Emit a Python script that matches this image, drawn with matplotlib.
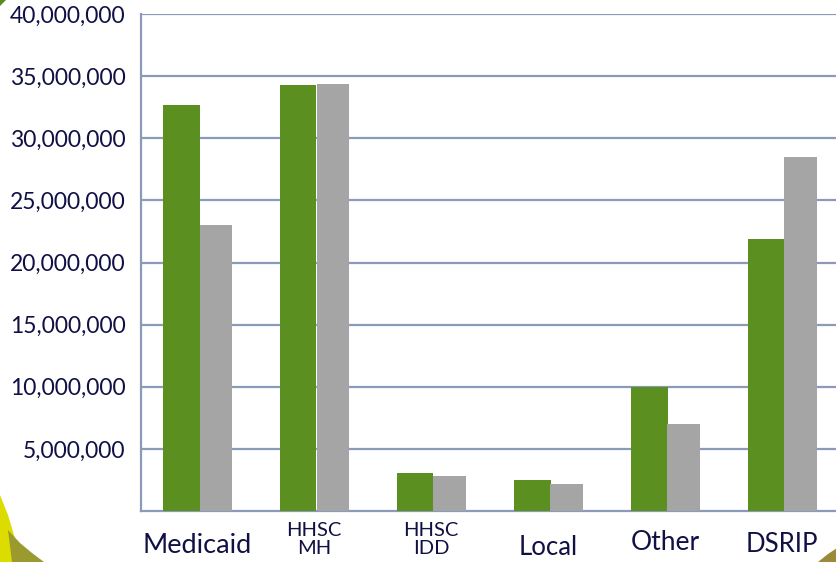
import matplotlib
matplotlib.use("Agg")
import matplotlib.pyplot as plt
import numpy as np
from matplotlib.patches import Polygon

categories = ["Medicaid", "HHSC\nMH", "HHSC\nIDD", "Local", "Other", "DSRIP"]
series_green = [32.7e6, 34.3e6, 3.05e6, 2.5e6, 10.0e6, 21.9e6]
series_gray = [23.0e6, 34.4e6, 2.85e6, 2.2e6, 7.0e6, 28.5e6]
label_sizes = [19.5, 14.5, 14.5, 18.5, 19, 18.5]
label_dy = [-16, -8, -8, -17, -14, -15]
yticks = [5e6, 10e6, 15e6, 20e6, 25e6, 30e6, 35e6, 40e6]

W, H = 837, 562
fig = plt.figure(figsize=(W/100, H/100), dpi=100)
fig.patch.set_facecolor("white")

# decorative corner shapes
yellow = Polygon([(0, 0), (0, (562-495)/H), (8/W, (562-515)/H), (14/W, (562-535)/H), (20/W, 0)],
                 closed=True, transform=fig.transFigure, facecolor="#dcdc00", edgecolor="none", zorder=0)
olive = Polygon([(8/W, (562-530)/H), (20/W, (562-543)/H), (32/W, (562-553)/H), (44/W, 0), (12/W, 0)],
                closed=True, transform=fig.transFigure, facecolor="#9a9a2e", edgecolor="none", zorder=0)
olive2 = Polygon([(837/W, (562-548)/H), (828/W, (562-554)/H), (818/W, 0), (837/W, 0)],
                 closed=True, transform=fig.transFigure, facecolor="#9a8a3a", edgecolor="none", zorder=0)
greenc = Polygon([(0, 1), (6/W, 1), (0, (562-6)/H)], closed=True, transform=fig.transFigure,
                 facecolor="#5a8a1e", edgecolor="none", zorder=0)
for p in (yellow, olive, olive2, greenc):
    fig.patches.append(p)

left = 141/W
right = 843/W
bottom = (562-511)/H
top = (562-14)/H
ax = fig.add_axes([left, bottom, right-left, top-bottom])
ax.set_facecolor("white")

x = np.arange(len(categories))
ax.bar(x - 0.155, series_green, width=0.31, color="#5b8f1f", zorder=3)
ax.bar(x + 0.14, series_gray, width=0.28, color="#a5a5a5", zorder=3)

ax.set_xlim(-0.5, len(categories) - 0.5)
ax.set_ylim(0, 40e6)
ax.set_yticks(yticks)
ax.set_yticklabels([f"{int(v):,}" for v in yticks], fontsize=16.5, color="#101045", family="Lato")
ax.yaxis.grid(True, color="#8a9ab8", linewidth=1.6, zorder=1)
ax.set_axisbelow(True)
ax.tick_params(axis="y", length=0, pad=11)
ax.tick_params(axis="x", length=0)
ax.set_xticks([])

for xi, lab, fs, dy in zip(x, categories, label_sizes, label_dy):
    ax.annotate(lab, xy=(xi - 0.02, 0), xycoords=("data", "axes fraction"),
                xytext=(0, dy), textcoords="offset points",
                ha="center", va="top", fontsize=fs, color="#101045", family="Lato",
                linespacing=1.05, annotation_clip=False)

for s in ["top", "right"]:
    ax.spines[s].set_visible(False)
ax.spines["left"].set_color("#8a9ab8")
ax.spines["left"].set_linewidth(1.6)
ax.spines["bottom"].set_color("#8a9ab8")
ax.spines["bottom"].set_linewidth(1.6)

fig.savefig("out.png", dpi=100)
